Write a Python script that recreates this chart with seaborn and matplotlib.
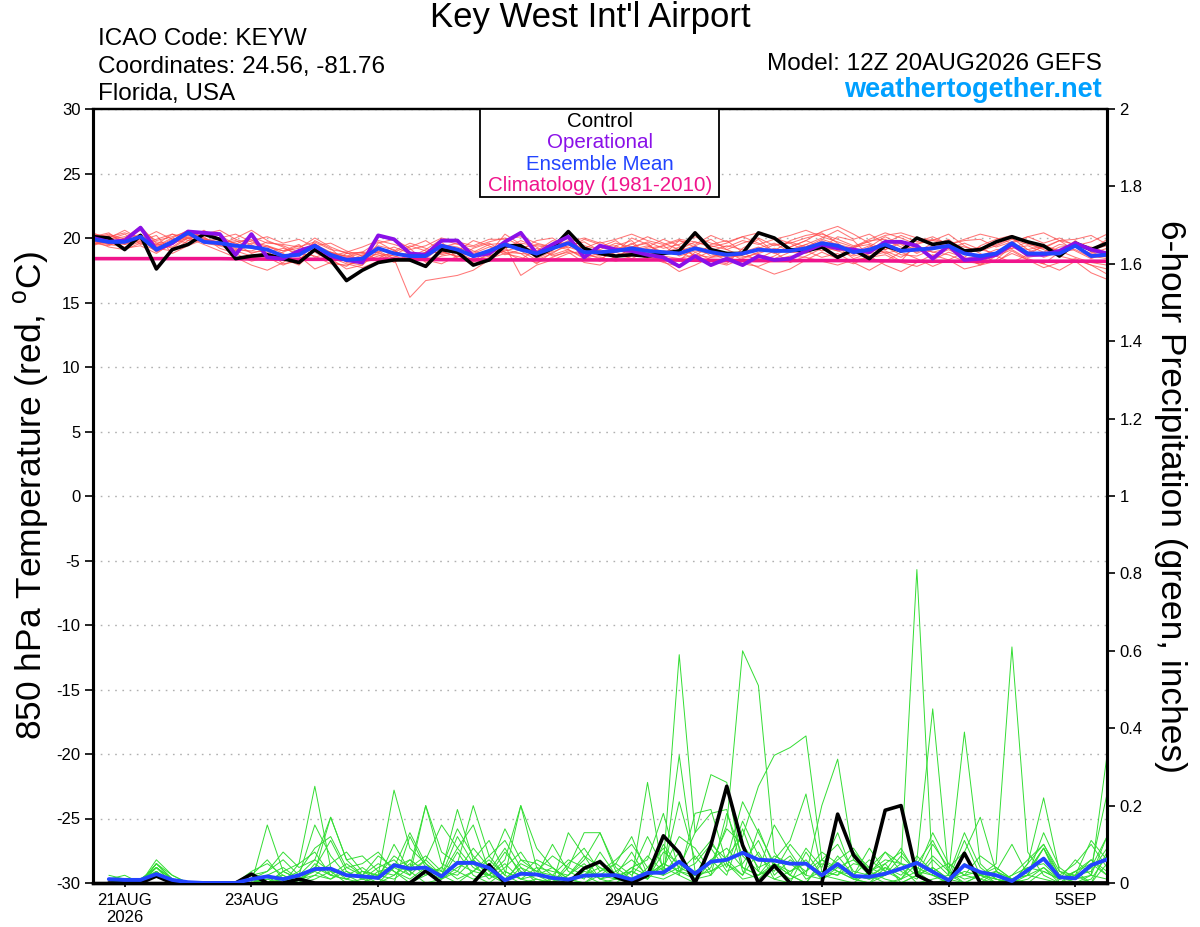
"""
GEFS plume for Key West Int'l Airport (KEYW), 12Z 20AUG2026 run.

Red   : 850 hPa temperature of the ensemble members (left axis, degC)
Green : 6-hour precipitation of the ensemble members (right axis, inches)
Black / purple / blue / pink : control, operational, ensemble mean, climatology.
"""

import matplotlib
matplotlib.use("Agg")

import matplotlib.pyplot as plt
import numpy as np
import pandas as pd
import seaborn as sns
from matplotlib.patches import Rectangle

# ── Run / time axis ──────────────────────────────────────────────────────────
RUN_START = "2026-08-20 12:00"
N_STEPS = 65          # 6-hourly, 0..384 h

TICK_DATES = ["2026-08-21", "2026-08-23", "2026-08-25", "2026-08-27",
              "2026-08-29", "2026-09-01", "2026-09-03", "2026-09-05"]
TICK_LABELS = ["21AUG\n2026", "23AUG", "25AUG", "27AUG",
               "29AUG", "1SEP", "3SEP", "5SEP"]

TEMP_TICKS = [30, 25, 20, 15, 10, 5, 0, -5, -10, -15, -20, -25, -30]
PRECIP_TICKS = [0, 0.2, 0.4, 0.6, 0.8, 1, 1.2, 1.4, 1.6, 1.8, 2]

# ── 850 hPa temperature (degC), steps 0..64 ──────────────────────────────────
CTRL_TEMP = [
    20.1, 20.0, 19.1, 20.2, 17.6, 19.1, 19.5, 20.3, 19.9, 18.4, 18.6, 18.7, 18.4,
    18.1, 19.1, 18.3, 16.7, 17.5, 18.1, 18.3, 18.3, 17.8, 19.1, 18.9, 17.9, 18.3,
    19.4, 19.4, 18.6, 19.2, 20.5, 19.2, 18.8, 18.6, 18.7, 18.6, 18.8, 19.0, 20.4,
    19.1, 18.8, 18.8, 20.4, 20.0, 19.1, 19.0, 19.3, 18.5, 19.1, 18.4, 19.4, 19.0,
    20.0, 19.5, 19.7, 19.0, 19.1, 19.7, 20.1, 19.7, 19.4, 18.6, 19.6, 19.1, 19.6,
]
OPER_TEMP = [
    20.0, 19.7, 19.8, 20.8, 19.1, 19.6, 20.5, 20.4, 20.3, 18.7, 20.3, 18.5, 18.4,
    19.0, 19.4, 18.6, 18.3, 18.1, 20.2, 19.9, 18.8, 18.7, 19.8, 19.8, 18.6, 18.8,
    19.7, 20.4, 18.8, 19.5, 20.1, 18.5, 19.4, 19.1, 19.0, 18.7, 18.5, 17.8, 18.6,
    17.9, 18.4, 17.9, 18.6, 18.3, 18.4, 19.0, 19.5, 19.2, 19.1, 18.9, 19.7, 19.7,
    19.4, 18.4, 19.4, 18.3, 18.4, 18.7, 19.5, 18.7, 18.7, 19.0, 19.6, 19.1, 18.8,
]
MEAN_TEMP = [
    19.9, 19.7, 19.7, 20.1, 19.1, 19.7, 20.4, 19.7, 19.6, 19.4, 19.3, 19.1, 18.6,
    18.7, 19.4, 18.7, 18.3, 18.4, 19.2, 18.8, 18.6, 18.6, 19.4, 19.1, 18.6, 19.0,
    19.5, 19.1, 18.8, 19.2, 19.6, 18.9, 18.9, 19.0, 19.2, 19.0, 18.9, 18.8, 19.2,
    18.9, 18.7, 18.8, 19.1, 19.0, 19.0, 19.2, 19.6, 19.4, 18.9, 19.1, 19.5, 19.0,
    19.1, 19.2, 19.4, 18.8, 18.6, 18.8, 19.6, 18.8, 18.8, 18.8, 19.4, 18.6, 18.7,
]
# climatology (1981-2010), one value per day from the run start
CLIM_TEMP = [18.4, 18.4, 18.4, 18.35, 18.35, 18.35, 18.3, 18.3, 18.3,
             18.3, 18.25, 18.25, 18.25, 18.2, 18.2, 18.2, 18.2]

MEMBER_TEMP_01 = [
    20.3, 20.1, 20.4, 20.0, 19.3, 19.9, 20.2, 20.5, 19.8, 19.2, 18.9, 19.0, 18.0,
    18.2, 19.8, 19.2, 18.1, 17.9, 19.0, 18.4, 15.4, 16.7, 16.9, 17.1, 17.5, 18.3,
    19.1, 18.8, 18.0, 18.9, 19.4, 19.7, 19.0, 18.4, 19.3, 19.6, 18.5, 18.2, 19.4,
    19.9, 19.1, 18.6, 18.4, 19.0, 19.8, 20.2, 20.4, 19.6, 18.7, 19.3, 20.1, 19.5,
    18.8, 19.4, 19.9, 19.0, 18.2, 18.6, 19.4, 18.9, 19.3, 19.8, 19.0, 18.4, 18.9,
]
MEMBER_TEMP_02 = [
    19.6, 19.4, 20.0, 20.9, 19.6, 19.2, 20.0, 20.3, 20.6, 19.9, 19.5, 18.6, 18.9,
    19.4, 18.9, 18.2, 17.8, 18.6, 19.4, 19.1, 18.2, 18.9, 19.7, 18.4, 18.1, 18.8,
    20.3, 19.5, 18.4, 19.0, 20.2, 18.6, 18.2, 19.4, 19.8, 18.6, 18.1, 17.8, 18.9,
    18.3, 18.0, 19.2, 19.9, 18.9, 18.1, 18.6, 19.2, 20.1, 19.8, 18.6, 18.9, 18.2,
    19.6, 19.8, 20.3, 19.4, 18.8, 18.1, 19.0, 18.3, 18.0, 18.9, 19.8, 18.9, 18.5,
]
MEMBER_TEMP_03 = [
    20.1, 20.4, 19.5, 19.8, 20.2, 18.8, 19.4, 19.9, 19.5, 20.0, 20.6, 19.8, 19.3,
    18.6, 17.6, 18.1, 18.8, 18.9, 18.3, 18.7, 19.3, 19.8, 19.0, 18.5, 19.2, 19.6,
    18.9, 18.3, 19.2, 18.7, 19.1, 18.4, 19.3, 19.8, 18.9, 19.3, 19.9, 19.4, 18.6,
    19.5, 19.8, 18.9, 18.2, 18.6, 19.3, 19.8, 20.5, 20.9, 20.3, 19.6, 19.1, 19.8,
    19.2, 18.6, 19.1, 18.5, 19.4, 19.9, 20.2, 19.6, 19.1, 18.6, 18.3, 17.9, 17.2,
]
MEMBER_TEMP_04 = [
    19.8, 19.3, 19.1, 19.6, 19.0, 19.8, 20.4, 20.1, 19.2, 18.8, 18.2, 18.5, 17.9,
    18.4, 19.0, 18.4, 17.6, 17.9, 19.6, 19.9, 19.2, 18.1, 18.6, 18.8, 17.9, 18.5,
    19.2, 19.8, 19.3, 18.6, 18.9, 18.1, 17.9, 18.6, 18.9, 18.4, 18.8, 19.3, 18.6,
    18.2, 17.9, 18.4, 18.9, 19.5, 19.6, 19.0, 18.5, 18.8, 18.1, 17.5, 18.2, 18.9,
    18.4, 17.8, 18.3, 18.9, 19.3, 18.6, 18.1, 18.7, 19.4, 19.0, 18.5, 18.1, 17.9,
]
MEMBER_TEMP_05 = [
    20.0, 19.8, 19.9, 20.3, 19.5, 19.3, 20.1, 19.9, 19.7, 19.1, 19.0, 19.4, 18.8,
    18.0, 19.2, 18.8, 18.6, 18.3, 18.8, 18.6, 18.2, 18.9, 19.3, 19.6, 19.0, 18.6,
    19.0, 19.3, 19.0, 19.8, 19.5, 19.2, 19.7, 19.1, 19.5, 20.1, 19.6, 19.1, 19.7,
    19.4, 19.1, 19.6, 20.0, 19.4, 19.7, 19.3, 19.9, 19.5, 19.2, 19.8, 19.9, 19.3,
    18.9, 19.6, 19.2, 18.8, 19.2, 19.5, 20.0, 19.1, 19.4, 19.0, 19.6, 19.3, 18.9,
]
MEMBER_TEMP_06 = [
    19.5, 19.8, 19.2, 19.4, 18.8, 19.6, 20.0, 19.5, 19.0, 18.5, 17.9, 17.5, 18.1,
    18.9, 19.6, 18.5, 18.0, 17.7, 18.2, 18.5, 18.9, 18.3, 18.0, 18.6, 18.2, 19.1,
    19.4, 17.1, 17.9, 18.3, 18.8, 19.0, 18.6, 18.9, 19.6, 18.7, 18.2, 17.4, 17.9,
    18.5, 18.9, 18.3, 17.7, 17.2, 17.6, 18.3, 18.9, 18.4, 18.0, 18.6, 17.9, 17.4,
    18.1, 18.7, 18.3, 17.6, 17.9, 18.6, 19.1, 18.4, 18.0, 17.5, 18.2, 17.3, 16.8,
]
MEMBER_TEMP_07 = [
    20.2, 20.0, 20.6, 19.9, 20.5, 19.9, 19.6, 20.2, 20.0, 20.3, 19.7, 19.4, 19.0,
    19.2, 20.0, 19.3, 18.8, 18.9, 19.7, 19.0, 18.5, 19.1, 19.9, 19.5, 19.3, 19.7,
    20.0, 19.4, 18.9, 19.5, 20.1, 19.4, 19.1, 19.6, 19.3, 19.7, 19.2, 19.5, 20.1,
    19.6, 19.3, 19.8, 19.5, 19.9, 20.2, 20.6, 20.1, 19.7, 19.3, 19.9, 20.4, 20.0,
    19.5, 19.9, 19.6, 19.3, 19.0, 19.4, 19.9, 19.5, 19.2, 19.8, 19.5, 19.0, 19.9,
]
MEMBER_TEMP_08 = [
    19.7, 19.5, 19.6, 19.9, 19.7, 19.5, 20.2, 19.8, 19.9, 19.6, 18.8, 19.2, 18.4,
    17.9, 19.1, 18.9, 18.5, 18.8, 18.9, 19.3, 18.8, 18.7, 19.2, 18.9, 18.3, 18.6,
    19.7, 19.0, 18.3, 18.8, 19.6, 18.8, 18.4, 18.9, 18.4, 19.0, 19.4, 18.6, 19.0,
    18.8, 18.3, 18.9, 19.3, 18.8, 19.3, 19.8, 19.3, 19.0, 18.6, 18.9, 19.3, 18.7,
    18.6, 19.1, 19.5, 18.9, 18.4, 18.9, 19.6, 18.5, 18.7, 19.3, 19.4, 18.6, 18.4,
]
MEMBER_TEMP_09 = [
    19.9, 20.2, 19.8, 20.1, 19.4, 20.0, 20.6, 20.0, 19.4, 19.7, 19.9, 18.7, 18.5,
    19.0, 19.5, 18.9, 18.6, 18.9, 18.9, 18.2, 18.5, 18.9, 19.5, 19.3, 18.8, 19.3,
    19.3, 19.6, 19.4, 19.2, 19.8, 19.1, 19.0, 18.6, 19.1, 19.4, 18.9, 19.0, 19.4,
    18.6, 18.7, 18.5, 18.8, 19.2, 18.9, 19.1, 19.8, 19.2, 18.9, 19.4, 19.1, 19.6,
    19.0, 19.3, 19.6, 18.4, 18.6, 19.1, 19.2, 19.4, 18.9, 19.5, 19.3, 18.8, 19.2,
]
MEMBER_TEMP_10 = [
    19.8, 19.6, 19.5, 20.0, 18.9, 19.5, 20.3, 19.6, 19.4, 19.0, 19.6, 19.3, 19.0,
    19.5, 18.5, 18.9, 18.2, 18.7, 18.7, 18.1, 18.8, 18.4, 19.3, 18.8, 18.7, 19.0,
    18.9, 18.8, 18.7, 19.4, 19.1, 18.5, 18.8, 19.3, 18.7, 18.5, 19.0, 18.9, 18.4,
    19.0, 19.4, 19.1, 18.7, 18.4, 18.9, 19.5, 19.0, 19.3, 18.4, 18.8, 19.0, 18.5,
    19.3, 18.9, 18.7, 18.2, 18.0, 18.3, 19.4, 19.1, 18.5, 18.9, 19.1, 18.5, 18.6,
]
MEMBER_TEMP_11 = [
    19.4, 19.9, 20.3, 19.5, 19.9, 20.3, 19.8, 20.6, 19.9, 19.3, 19.8, 20.1, 19.6,
    19.9, 19.3, 18.6, 18.9, 18.1, 18.4, 19.0, 19.6, 19.2, 18.7, 19.0, 19.8, 19.4,
    18.7, 19.1, 19.8, 20.0, 19.2, 19.9, 19.5, 18.9, 20.0, 19.5, 18.7, 19.8, 19.5,
    20.2, 19.7, 20.1, 19.6, 18.9, 19.1, 19.5, 20.0, 20.6, 19.9, 20.3, 19.6, 20.2,
    19.7, 20.1, 19.5, 19.8, 19.9, 19.3, 19.7, 20.1, 19.6, 20.0, 19.4, 19.7, 20.3,
]
MEMBER_TEMP_12 = [
    19.9, 19.5, 19.3, 19.7, 19.2, 19.0, 19.8, 20.0, 19.6, 19.0, 18.6, 18.9, 19.2,
    18.8, 18.6, 18.0, 17.9, 18.2, 18.6, 18.8, 18.5, 18.2, 18.9, 18.6, 18.3, 18.4,
    18.8, 18.5, 18.1, 18.5, 19.0, 18.7, 18.5, 18.2, 18.6, 18.9, 18.6, 18.4, 18.7,
    18.5, 18.6, 18.0, 17.8, 18.3, 18.6, 18.5, 18.2, 17.9, 18.3, 18.5, 18.7, 18.1,
    17.8, 18.3, 18.9, 18.5, 17.9, 18.2, 18.8, 18.3, 17.7, 18.1, 18.4, 17.9, 17.6,
]
MEMBER_TEMP_13 = [
    20.0, 20.3, 19.9, 20.6, 19.8, 20.1, 20.5, 20.3, 20.2, 19.5, 20.1, 19.6, 19.5,
    19.3, 19.7, 19.1, 18.9, 19.3, 19.8, 19.5, 19.1, 19.4, 20.0, 19.7, 19.4, 19.9,
    19.9, 20.1, 19.6, 19.3, 19.7, 20.0, 19.6, 19.9, 20.3, 19.8, 19.5, 19.9, 19.7,
    19.3, 19.6, 20.1, 20.4, 20.0, 19.6, 20.0, 20.3, 19.9, 19.4, 19.7, 20.2, 20.4,
    20.0, 19.8, 19.5, 19.9, 20.3, 20.0, 19.6, 20.1, 20.4, 19.8, 19.9, 20.2, 19.5,
]
MEMBER_TEMP_14 = [
    20.4, 19.9, 20.1, 19.7, 19.5, 20.3, 20.0, 19.7, 19.6, 19.8, 19.2, 19.7, 19.4,
    18.9, 19.4, 19.6, 19.0, 18.6, 19.1, 18.9, 19.4, 19.0, 18.8, 19.2, 18.9, 19.5,
    19.6, 19.2, 19.5, 19.3, 19.3, 18.9, 19.3, 19.4, 18.8, 19.2, 19.4, 19.8, 19.3,
    19.1, 18.5, 18.7, 19.2, 19.6, 18.9, 18.8, 19.4, 19.0, 19.3, 19.5, 18.8, 19.1,
    19.4, 18.9, 19.2, 19.6, 19.1, 18.8, 19.2, 19.7, 19.3, 18.9, 19.5, 19.1, 19.4,
]

# ── 6-hour precipitation (inches), steps 1..64 ───────────────────────────────
CTRL_PRECIP = [
    0.00, 0.00, 0.00, 0.018, 0.00, 0.00, 0.00, 0.00, 0.00, 0.023, 0.00, 0.00, 0.01, 0.00, 0.00, 0.00,
    0.00, 0.00, 0.00, 0.00, 0.031, 0.00, 0.00, 0.00, 0.047, 0.00, 0.00, 0.00, 0.00, 0.00, 0.038, 0.055,
    0.016, 0.00, 0.02, 0.122, 0.078, 0.00, 0.098, 0.25, 0.098, 0.00, 0.045, 0.00, 0.00, 0.00, 0.178, 0.072,
    0.025, 0.188, 0.20, 0.02, 0.00, 0.00, 0.077, 0.00, 0.00, 0.00, 0.00, 0.00, 0.00, 0.00, 0.00, 0.00,
]
MEAN_PRECIP = [
    0.01, 0.008, 0.008, 0.023, 0.008, 0.002, 0.00, 0.00, 0.00, 0.01, 0.017, 0.01, 0.02, 0.036, 0.037, 0.02,
    0.017, 0.013, 0.046, 0.037, 0.04, 0.017, 0.052, 0.052, 0.039, 0.007, 0.024, 0.022, 0.013, 0.009, 0.019, 0.02,
    0.02, 0.009, 0.026, 0.027, 0.055, 0.024, 0.055, 0.06, 0.078, 0.06, 0.058, 0.05, 0.05, 0.02, 0.049, 0.018,
    0.016, 0.024, 0.037, 0.052, 0.029, 0.007, 0.046, 0.028, 0.02, 0.005, 0.033, 0.063, 0.015, 0.012, 0.046, 0.061,
]

MEMBER_PRECIP_01 = [
    0.01, 0.01, 0.00, 0.05, 0.01, 0.00, 0.00, 0.00, 0.00, 0.02, 0.00, 0.03, 0.05, 0.25, 0.04, 0.01,
    0.00, 0.02, 0.05, 0.03, 0.00, 0.01, 0.08, 0.02, 0.00, 0.03, 0.01, 0.00, 0.00, 0.02, 0.05, 0.01,
    0.00, 0.03, 0.12, 0.04, 0.02, 0.00, 0.06, 0.02, 0.14, 0.03, 0.01, 0.00, 0.08, 0.02, 0.01, 0.00,
    0.03, 0.06, 0.05, 0.81, 0.02, 0.00, 0.05, 0.02, 0.00, 0.01, 0.03, 0.09, 0.00, 0.01, 0.04, 0.12,
]
MEMBER_PRECIP_02 = [
    0.00, 0.00, 0.00, 0.04, 0.00, 0.00, 0.00, 0.00, 0.00, 0.01, 0.00, 0.00, 0.02, 0.06, 0.03, 0.00,
    0.01, 0.02, 0.24, 0.09, 0.05, 0.02, 0.00, 0.03, 0.07, 0.11, 0.04, 0.00, 0.01, 0.00, 0.03, 0.02,
    0.01, 0.00, 0.02, 0.05, 0.03, 0.01, 0.04, 0.15, 0.60, 0.51, 0.08, 0.02, 0.00, 0.05, 0.03, 0.01,
    0.00, 0.02, 0.04, 0.00, 0.01, 0.02, 0.00, 0.00, 0.03, 0.00, 0.01, 0.04, 0.00, 0.00, 0.02, 0.01,
]
MEMBER_PRECIP_03 = [
    0.00, 0.00, 0.01, 0.03, 0.00, 0.00, 0.00, 0.00, 0.00, 0.00, 0.02, 0.04, 0.01, 0.03, 0.17, 0.06,
    0.02, 0.00, 0.04, 0.06, 0.03, 0.02, 0.05, 0.20, 0.07, 0.02, 0.00, 0.01, 0.00, 0.04, 0.02, 0.00,
    0.01, 0.03, 0.01, 0.05, 0.59, 0.13, 0.18, 0.19, 0.03, 0.01, 0.05, 0.02, 0.00, 0.06, 0.04, 0.02,
    0.01, 0.05, 0.00, 0.02, 0.04, 0.01, 0.00, 0.02, 0.05, 0.61, 0.08, 0.02, 0.00, 0.03, 0.06, 0.02,
]
MEMBER_PRECIP_04 = [
    0.00, 0.01, 0.00, 0.06, 0.02, 0.00, 0.00, 0.00, 0.00, 0.03, 0.05, 0.02, 0.00, 0.04, 0.11, 0.03,
    0.01, 0.04, 0.06, 0.02, 0.20, 0.05, 0.03, 0.01, 0.02, 0.06, 0.20, 0.04, 0.00, 0.02, 0.06, 0.13,
    0.04, 0.01, 0.03, 0.02, 0.08, 0.01, 0.02, 0.07, 0.12, 0.25, 0.33, 0.35, 0.38, 0.06, 0.03, 0.01,
    0.00, 0.04, 0.02, 0.06, 0.45, 0.02, 0.39, 0.05, 0.01, 0.00, 0.04, 0.03, 0.01, 0.02, 0.00, 0.05,
]
MEMBER_PRECIP_05 = [
    0.01, 0.02, 0.00, 0.05, 0.01, 0.00, 0.00, 0.00, 0.00, 0.00, 0.15, 0.03, 0.01, 0.02, 0.05, 0.08,
    0.03, 0.01, 0.00, 0.12, 0.04, 0.03, 0.19, 0.06, 0.02, 0.00, 0.04, 0.02, 0.10, 0.03, 0.01, 0.08,
    0.02, 0.01, 0.26, 0.02, 0.04, 0.13, 0.28, 0.26, 0.04, 0.02, 0.07, 0.05, 0.02, 0.20, 0.32, 0.06,
    0.03, 0.01, 0.00, 0.02, 0.07, 0.03, 0.00, 0.02, 0.04, 0.01, 0.00, 0.03, 0.01, 0.06, 0.02, 0.33,
]
MEMBER_PRECIP_06 = [
    0.02, 0.01, 0.01, 0.04, 0.00, 0.00, 0.00, 0.00, 0.00, 0.01, 0.00, 0.01, 0.03, 0.09, 0.12, 0.04,
    0.05, 0.08, 0.03, 0.00, 0.02, 0.04, 0.14, 0.07, 0.03, 0.09, 0.02, 0.06, 0.04, 0.01, 0.00, 0.03,
    0.06, 0.10, 0.04, 0.02, 0.33, 0.03, 0.05, 0.14, 0.10, 0.04, 0.06, 0.11, 0.23, 0.03, 0.02, 0.05,
    0.04, 0.08, 0.03, 0.01, 0.06, 0.02, 0.13, 0.04, 0.01, 0.00, 0.05, 0.22, 0.03, 0.01, 0.04, 0.23,
]
MEMBER_PRECIP_07 = [
    0.00, 0.00, 0.00, 0.03, 0.00, 0.00, 0.00, 0.00, 0.00, 0.02, 0.06, 0.01, 0.00, 0.05, 0.02, 0.01,
    0.03, 0.02, 0.07, 0.04, 0.20, 0.08, 0.05, 0.03, 0.06, 0.02, 0.20, 0.09, 0.04, 0.00, 0.02, 0.04,
    0.01, 0.04, 0.06, 0.18, 0.03, 0.07, 0.02, 0.18, 0.07, 0.03, 0.15, 0.08, 0.02, 0.01, 0.04, 0.06,
    0.02, 0.08, 0.05, 0.02, 0.10, 0.04, 0.08, 0.17, 0.03, 0.01, 0.02, 0.09, 0.01, 0.03, 0.00, 0.08,
]
MEMBER_PRECIP_08 = [
    0.01, 0.00, 0.00, 0.05, 0.02, 0.00, 0.00, 0.00, 0.00, 0.01, 0.03, 0.08, 0.04, 0.06, 0.17, 0.06,
    0.07, 0.03, 0.04, 0.02, 0.06, 0.15, 0.09, 0.04, 0.02, 0.01, 0.05, 0.03, 0.07, 0.04, 0.13, 0.13,
    0.03, 0.00, 0.04, 0.09, 0.02, 0.18, 0.19, 0.05, 0.02, 0.14, 0.04, 0.01, 0.03, 0.06, 0.10, 0.03,
    0.02, 0.00, 0.01, 0.05, 0.11, 0.03, 0.01, 0.02, 0.03, 0.10, 0.02, 0.01, 0.00, 0.02, 0.06, 0.03,
]
MEMBER_PRECIP_09 = [
    0.00, 0.01, 0.00, 0.02, 0.00, 0.00, 0.00, 0.00, 0.00, 0.00, 0.01, 0.00, 0.02, 0.03, 0.01, 0.04,
    0.02, 0.05, 0.03, 0.01, 0.04, 0.02, 0.09, 0.15, 0.03, 0.00, 0.06, 0.05, 0.02, 0.01, 0.00, 0.02,
    0.05, 0.12, 0.02, 0.01, 0.03, 0.05, 0.10, 0.06, 0.02, 0.08, 0.01, 0.03, 0.05, 0.01, 0.07, 0.02,
    0.09, 0.03, 0.01, 0.03, 0.02, 0.00, 0.05, 0.01, 0.00, 0.02, 0.06, 0.10, 0.02, 0.00, 0.01, 0.07,
]
MEMBER_PRECIP_10 = [
    0.01, 0.00, 0.00, 0.04, 0.01, 0.00, 0.00, 0.00, 0.00, 0.00, 0.00, 0.01, 0.00, 0.01, 0.03, 0.02,
    0.00, 0.03, 0.02, 0.06, 0.03, 0.01, 0.04, 0.06, 0.02, 0.08, 0.03, 0.01, 0.00, 0.13, 0.07, 0.01,
    0.02, 0.08, 0.01, 0.10, 0.04, 0.02, 0.03, 0.05, 0.01, 0.02, 0.04, 0.07, 0.01, 0.03, 0.02, 0.08,
    0.04, 0.02, 0.07, 0.03, 0.00, 0.01, 0.03, 0.02, 0.01, 0.00, 0.02, 0.04, 0.01, 0.03, 0.05, 0.02,
]
MEMBER_PRECIP_11 = [
    0.01, 0.01, 0.00, 0.04, 0.01, 0.00, 0.00, 0.00, 0.00, 0.02, 0.03, 0.06, 0.02, 0.15, 0.07, 0.02,
    0.04, 0.01, 0.10, 0.03, 0.06, 0.02, 0.12, 0.05, 0.01, 0.04, 0.08, 0.02, 0.00, 0.05, 0.09, 0.03,
    0.05, 0.02, 0.07, 0.03, 0.21, 0.06, 0.11, 0.04, 0.16, 0.07, 0.03, 0.10, 0.05, 0.02, 0.06, 0.09,
    0.03, 0.05, 0.08, 0.03, 0.13, 0.05, 0.02, 0.07, 0.04, 0.01, 0.03, 0.09, 0.02, 0.05, 0.10, 0.04,
]
MEMBER_PRECIP_12 = [
    0.00, 0.00, 0.00, 0.03, 0.00, 0.00, 0.00, 0.00, 0.00, 0.01, 0.02, 0.00, 0.05, 0.08, 0.02, 0.05,
    0.02, 0.07, 0.04, 0.13, 0.05, 0.01, 0.03, 0.09, 0.04, 0.14, 0.06, 0.03, 0.02, 0.06, 0.04, 0.01,
    0.03, 0.06, 0.02, 0.04, 0.12, 0.09, 0.03, 0.06, 0.21, 0.13, 0.05, 0.02, 0.09, 0.04, 0.13, 0.02,
    0.06, 0.03, 0.09, 0.02, 0.04, 0.01, 0.11, 0.02, 0.01, 0.00, 0.05, 0.10, 0.03, 0.02, 0.11, 0.06,
]
MEMBER_PRECIP_13 = [
    0.01, 0.00, 0.00, 0.05, 0.01, 0.00, 0.00, 0.00, 0.00, 0.00, 0.01, 0.02, 0.00, 0.02, 0.01, 0.03,
    0.01, 0.00, 0.02, 0.05, 0.02, 0.04, 0.01, 0.03, 0.02, 0.05, 0.01, 0.02, 0.04, 0.01, 0.02, 0.06,
    0.01, 0.04, 0.02, 0.05, 0.03, 0.02, 0.06, 0.09, 0.04, 0.02, 0.05, 0.03, 0.06, 0.01, 0.03, 0.02,
    0.01, 0.02, 0.05, 0.04, 0.02, 0.01, 0.02, 0.03, 0.00, 0.02, 0.04, 0.05, 0.01, 0.02, 0.03, 0.09,
]
MEMBER_PRECIP_14 = [
    0.00, 0.01, 0.01, 0.04, 0.01, 0.00, 0.00, 0.00, 0.00, 0.01, 0.00, 0.03, 0.01, 0.04, 0.02, 0.01,
    0.03, 0.02, 0.01, 0.04, 0.07, 0.03, 0.02, 0.06, 0.11, 0.03, 0.01, 0.04, 0.03, 0.02, 0.07, 0.04,
    0.02, 0.03, 0.01, 0.08, 0.05, 0.02, 0.09, 0.03, 0.05, 0.11, 0.02, 0.06, 0.03, 0.08, 0.05, 0.01,
    0.02, 0.04, 0.01, 0.07, 0.03, 0.05, 0.02, 0.01, 0.03, 0.01, 0.02, 0.13, 0.04, 0.01, 0.02, 0.12,
]

# ── Colours ──────────────────────────────────────────────────────────────────
RED = "#ff4a4a"
GREEN = "#33dd33"
PURPLE = "#8a10e8"
BLUE = "#2244ff"
PINK = "#f0148c"
SITE_BLUE = "#00a0ff"


def to_long(members, times, value_name):
    """Stack member series into one long frame for seaborn's units= option."""
    for i, m in enumerate(members):
        assert len(m) == len(times), (value_name, i, len(m))
    return pd.DataFrame({
        "time": np.tile(times.values, len(members)),
        "member": np.repeat(np.arange(len(members)), len(times)),
        value_name: np.concatenate(members),
    })


def main() -> None:
    sns.set_style("ticks")
    plt.rcParams["font.family"] = ["Liberation Sans", "DejaVu Sans"]
    plt.rcParams["mathtext.default"] = "regular"
    for key in ("text.color", "axes.labelcolor", "xtick.color", "ytick.color"):
        plt.rcParams[key] = "black"

    times = pd.date_range(RUN_START, periods=N_STEPS, freq="6h")
    precip_times = times[1:]
    clim_times = pd.date_range(RUN_START, periods=len(CLIM_TEMP), freq="D")

    temp_members = [MEMBER_TEMP_01, MEMBER_TEMP_02, MEMBER_TEMP_03, MEMBER_TEMP_04,
                    MEMBER_TEMP_05, MEMBER_TEMP_06, MEMBER_TEMP_07, MEMBER_TEMP_08,
                    MEMBER_TEMP_09, MEMBER_TEMP_10, MEMBER_TEMP_11, MEMBER_TEMP_12,
                    MEMBER_TEMP_13, MEMBER_TEMP_14]
    precip_members = [MEMBER_PRECIP_01, MEMBER_PRECIP_02, MEMBER_PRECIP_03,
                      MEMBER_PRECIP_04, MEMBER_PRECIP_05, MEMBER_PRECIP_06,
                      MEMBER_PRECIP_07, MEMBER_PRECIP_08, MEMBER_PRECIP_09,
                      MEMBER_PRECIP_10, MEMBER_PRECIP_11, MEMBER_PRECIP_12,
                      MEMBER_PRECIP_13, MEMBER_PRECIP_14]
    temp_long = to_long(temp_members, times, "temp")
    precip_long = to_long(precip_members, precip_times, "precip")

    fig = plt.figure(figsize=(12, 9.27), dpi=100)
    ax = fig.add_axes([93 / 1200, 1 - 883 / 927, 1014 / 1200, 774 / 927])
    ax2 = ax.twinx()

    # ── temperature (left axis) ──
    sns.lineplot(data=temp_long, x="time", y="temp", units="member",
                 estimator=None, color=RED, lw=0.75, alpha=0.75, ax=ax,
                 legend=False, zorder=2)
    sns.lineplot(x=clim_times, y=CLIM_TEMP, color=PINK, lw=2.6, ax=ax, zorder=3)
    sns.lineplot(x=times, y=CTRL_TEMP, color="black", lw=2.6, ax=ax, zorder=4)
    sns.lineplot(x=times, y=OPER_TEMP, color=PURPLE, lw=2.8, ax=ax, zorder=5)
    sns.lineplot(x=times, y=MEAN_TEMP, color=BLUE, lw=2.8, ax=ax, zorder=6)

    # ── precipitation (right axis) ──
    sns.lineplot(data=precip_long, x="time", y="precip", units="member",
                 estimator=None, color=GREEN, lw=0.7, ax=ax2, legend=False,
                 zorder=2)
    sns.lineplot(x=precip_times, y=CTRL_PRECIP, color="black", lw=2.6, ax=ax2,
                 zorder=4)
    sns.lineplot(x=precip_times, y=MEAN_PRECIP, color=BLUE, lw=2.8, ax=ax2,
                 zorder=5)

    ax.set_xlim(times[0], times[-1])
    ax.set_ylim(-30, 30)
    ax2.set_ylim(0, 2)
    ax.set_yticks(TEMP_TICKS)
    ax.set_yticklabels([str(v) for v in TEMP_TICKS])
    ax2.set_yticks(PRECIP_TICKS)
    ax2.set_yticklabels([f"{v:g}" for v in PRECIP_TICKS])
    ax.set_xticks(pd.to_datetime(TICK_DATES))
    ax.set_xticklabels(TICK_LABELS)
    for a in (ax, ax2):
        a.set_xlabel("")
        a.set_ylabel("")

    ax.yaxis.grid(True, linestyle=(0, (1.2, 4)), color="#b0b0b0", lw=1.0)
    ax.xaxis.grid(False)
    ax.tick_params(axis="y", direction="out", length=6, width=1.2,
                   labelsize=12, pad=3)
    ax.tick_params(axis="x", direction="out", length=3, width=1.2,
                   labelsize=12, pad=4)
    ax2.tick_params(axis="y", direction="out", length=6, width=1.2,
                    labelsize=12, pad=3)

    for a in (ax, ax2):
        a.spines["left"].set_linewidth(2.2)
        a.spines["right"].set_linewidth(2.2)
        a.spines["bottom"].set_linewidth(2.4)
        a.spines["top"].set_linewidth(1.6)
        for s in a.spines.values():
            s.set_color("black")
            s.set_visible(True)

    # ── legend box (centred text lines, boxed at the top of the plot) ──
    box_x0, box_x1 = (480 - 93) / 1014, (719 - 93) / 1014
    box_y0 = (883 - 197) / 774
    ax2.add_patch(Rectangle((box_x0, box_y0), box_x1 - box_x0, 1 - box_y0,
                            transform=ax2.transAxes, facecolor="white",
                            edgecolor="black", lw=1.3, zorder=20,
                            clip_on=False))
    legend_items = [("Control", "black"), ("Operational", PURPLE),
                    ("Ensemble Mean", BLUE),
                    ("Climatology (1981-2010)", PINK)]
    for i, (label, colour) in enumerate(legend_items):
        y_px = 121 + i * 21.5
        ax2.text(0.5, (883 - y_px) / 774, label, color=colour,
                 transform=ax2.transAxes, ha="center", va="center",
                 fontsize=14.8, zorder=21)

    # ── axis titles and header ──
    fig.text(32 / 1200, 1 - 496 / 927,
             "850 hPa Temperature (red, $^{o}$C)",
             rotation=90, ha="center", va="center", fontsize=25.5)
    fig.text(1170 / 1200, 1 - 496 / 927,
             "6-hour Precipitation (green, inches)",
             rotation=270, ha="center", va="center", fontsize=25.5)

    fig.text(590 / 1200, 1 - 18 / 927, "Key West Int'l Airport",
             ha="center", va="center", fontsize=25)
    for i, line in enumerate(["ICAO Code: KEYW",
                              "Coordinates: 24.56, -81.76",
                              "Florida, USA"]):
        fig.text(98 / 1200, 1 - (39 + i * 27.5) / 927, line,
                 ha="left", va="center", fontsize=17.5)
    fig.text(1102 / 1200, 1 - 64 / 927, "Model: 12Z 20AUG2026 GEFS",
             ha="right", va="center", fontsize=17.5)
    fig.text(1102 / 1200, 1 - 90 / 927, "weathertogether.net",
             ha="right", va="center", fontsize=19.5, fontweight="bold",
             color=SITE_BLUE)

    fig.savefig("out.png", dpi=100, facecolor="white")
    plt.close(fig)


if __name__ == "__main__":
    main()
